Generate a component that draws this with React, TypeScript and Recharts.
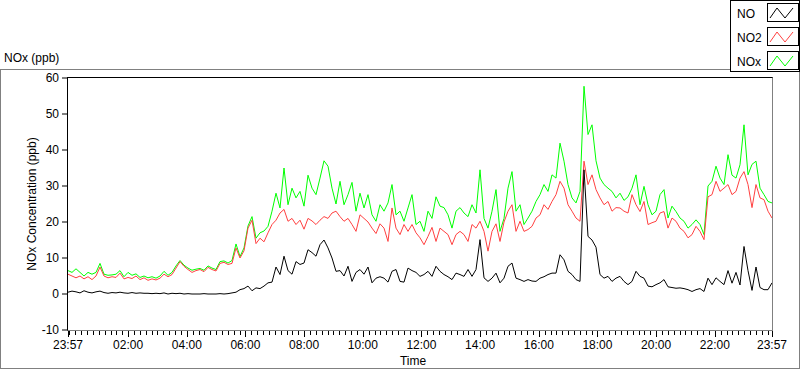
import { LineChart, Line, XAxis, YAxis } from 'recharts';

// one sample every 1440/176 minutes, starting 23:57
const STEP_MIN = 1440 / 176;

const NO = [
  0.5, 0.8, 0.6, 0.3, 0.9, 0.5, 0.3, 0.6, 0.8, 0.4,
  0.2, 0.4, 0.3, 0.5, 0.3, 0.2, 0.4, 0.2, 0.3, 0.2,
  0.2, 0.1, 0.2, 0.1, 0.3, 0, 0.2, 0.1, 0.2, 0,
  0.1, 0, 0, 0, 0.1, 0, 0, 0, 0.1, 0,
  0.1, 0.3, 0.5, 1.2, 1.5, 2.2, 0.9, 1.7, 1.5, 2.2,
  3.1, 3.3, 7.5, 5.4, 10.5, 6.5, 5.5, 9, 8.2, 8.6,
  12.3, 11.5, 10.5, 13.7, 15, 12.8, 10, 6.3, 6.5, 5,
  7.7, 3.5, 6, 6.8, 5.5, 7.5, 3.1, 4.4, 4.8, 4.4,
  3.3, 6.3, 6.8, 3.5, 3.3, 7.2, 6.5, 6, 4.9, 5.4,
  6.3, 4.9, 7.7, 6.3, 5.4, 4.8, 4, 5.8, 5.4, 4.9,
  6.8, 4.9, 6.8, 15.1, 4.5, 3.5, 4.4, 5.8, 3.1, 4.4,
  7.7, 8.6, 4.4, 4, 3.5, 4, 3.6, 3.5, 4.4, 4.8,
  5.4, 5.8, 5.8, 10.9, 9.5, 6.3, 5.4, 4, 3.5, 34.5,
  16, 15, 13, 5.4, 4.4, 4.9, 3.5, 4.4, 4.9, 3.5,
  2.6, 3.5, 6.3, 4.9, 4.4, 2.2, 2, 2.6, 3.1, 4,
  2, 1.8, 1.6, 1.7, 1.5, 1.2, 0.7, 1.2, 1.5, 0.7,
  4.4, 2.6, 4.5, 3.5, 2.6, 6.5, 3, 6, 2.5, 13.2,
  6.5, 1, 7.5, 1.8, 1.2, 1.2, 3.1,
];

const NO2 = [
  5.5, 5, 4.5, 5, 4.2, 4.8, 4, 5, 7.5, 5,
  4.5, 4.8, 4.6, 5.8, 4.2, 4.6, 4.3, 5, 4, 4.5,
  3.8, 4.2, 3.9, 4.4, 5.5, 4.8, 5.4, 7.2, 9, 7.7,
  6.8, 6, 6.5, 6.8, 6.2, 7.4, 6.8, 6.4, 8.5, 8.8,
  8.2, 8.5, 12.8, 10, 12, 18.3, 20.5, 14, 15.5, 14.5,
  17, 19.3, 20.5, 22.5, 23.5, 20.2, 21, 19.3, 20.5, 18,
  21, 20.3, 19.3, 20.5, 21.5, 21, 22.5, 23, 21.5, 20.2,
  21, 19.3, 17.4, 22, 21, 20, 18.3, 16.8, 19.5, 18.3,
  14.6, 23.9, 18.3, 16.5, 19.3, 17.4, 19.3, 17, 15.6, 13.7,
  16, 18.5, 14.6, 18.3, 17.4, 16.5, 13.7, 16.5, 17.4, 16.5,
  14.6, 19.3, 18.3, 20.2, 17.4, 11.9, 17.4, 19.5, 14.6, 20,
  23, 24.8, 17.4, 20.2, 17.4, 17.9, 18.8, 21.1, 22, 24.8,
  23.5, 25.7, 27.6, 31.3, 29.4, 24.8, 23, 21.1, 20.2, 36.9,
  30.4, 33.1, 29, 26.7, 24.8, 25.7, 23, 24, 23.9, 23,
  22.5, 27.6, 24.8, 22.9, 25.7, 19.3, 19.8, 20.2, 22.5, 22.9,
  18.3, 21.1, 20.2, 18.3, 17.4, 15.6, 16.5, 18.8, 17.4, 15.1,
  27, 27.6, 31.3, 28.5, 29.4, 30.4, 27.6, 28.5, 32.2, 34,
  30.4, 24, 30.4, 26.7, 26.2, 23, 21.1,
];

const NOX = [
  6.5, 6, 7, 6, 5, 6, 5.5, 6, 8.5, 5.5,
  5.2, 5.3, 5.5, 6.5, 4.8, 6, 5.2, 5.6, 4.6, 5,
  4.5, 4.8, 4.4, 5, 6.3, 5.2, 6, 7.8, 9.3, 8,
  7.2, 6.6, 6.9, 7.1, 6.6, 7.8, 7.2, 6.8, 9, 9.2,
  8.6, 9.3, 13.9, 10.4, 12.8, 18.9, 21.5, 15.5, 17, 17.5,
  18.8, 23, 28, 23.9, 35, 24.8, 29.4, 26.7, 28.5, 24.4,
  33, 29.4, 27.6, 32.2, 37, 35.5, 29.4, 25, 31.3, 24.8,
  27.6, 31, 23, 28, 23.9, 27.6, 22, 20.2, 24.8, 23,
  25.3, 30.4, 22, 23, 20.2, 23.9, 27.6, 19.3, 20.2, 17.4,
  23, 21, 27, 24.4, 24, 22, 18.3, 23, 24, 22.5,
  21.5, 24.8, 22.5, 34.5, 21, 18.3, 23, 29, 17.4, 21,
  29.4, 34, 23, 24.8, 19.3, 21.1, 23, 25.7, 27.6, 30.4,
  28.5, 33.1, 32.2, 41.9, 36.9, 30.4, 26.7, 25.3, 28.5, 57.7,
  44.3, 47, 37, 32.2, 30.4, 29.4, 28.5, 26.7, 28, 26,
  27, 29.4, 33.1, 24.8, 29.9, 24.8, 22, 23, 27.6, 29,
  21.1, 24.4, 22.9, 21.1, 20.2, 18.3, 19.3, 20.6, 19.3, 16.5,
  30, 31.3, 35.5, 32.2, 30.4, 38.7, 33, 32.2, 35.9, 47,
  33.1, 36, 36.9, 29.4, 27.6, 25.7, 25.3,
];

// labelled ticks, in minutes after 23:57
const TICK_MIN = [0, 123, 243, 363, 483, 603, 723, 843, 963, 1083, 1203, 1323, 1440];
const TICK_LABELS = ['23:57', '02:00', '04:00', '06:00', '08:00', '10:00', '12:00', '14:00', '16:00', '18:00', '20:00', '22:00', '23:57'];
const Y_TICKS = [-10, 0, 10, 20, 30, 40, 50, 60];

const SERIES = [
  { key: 'no', name: 'NO', color: '#000000' },
  { key: 'no2', name: 'NO2', color: '#ff4040' },
  { key: 'nox', name: 'NOx', color: '#00ff00' },
];

const data = NO.map((v, i) => ({ t: i * STEP_MIN, no: v, no2: NO2[i], nox: NOX[i] }));

// minor ticks every 12 min from 00:00, plus both 23:57 ends
const X_TICKS = [0, ...Array.from({ length: 120 }, (_, k) => 3 + 12 * k), 1440];

const FONT = '"Liberation Sans", Arial, sans-serif';

function TimeTick({ x, y, payload }: any) {
  const idx = TICK_MIN.indexOf(payload.value);
  const major = idx >= 0;
  const px = Math.round(x) + 0.5;
  return (
    <g>
      <line x1={px} x2={px} y1={y + 1} y2={y + (major ? 7 : 5)} stroke="#000" />
      {major && (
        <text x={x} y={y + 19} textAnchor="middle" fontSize={12} fill="#000" fontFamily={FONT}>
          {TICK_LABELS[idx]}
        </text>
      )}
    </g>
  );
}

// LabVIEW-style legend swatch: small zigzag in a boxed cell
function Swatch({ color }: { color: string }) {
  return (
    <svg width={32} height={19} style={{ display: 'block' }}>
      <rect x={0.5} y={0.5} width={31} height={18} fill="#fff" stroke="#000" />
      <polyline points="3,15 10,5 18,15 26,5" fill="none" stroke={color} strokeWidth={1} />
    </svg>
  );
}

export default function App() {
  return (
    <div style={{ position: 'absolute', left: 0, top: 0, width: 800, height: 369, background: '#fff', fontFamily: FONT, color: '#000' }}>
      {/* outer panel */}
      <div style={{ position: 'absolute', left: 0, top: 69, width: 800, height: 300, boxSizing: 'border-box', border: '1px solid #808080' }} />
      <div style={{ position: 'absolute', left: 4, top: 51, fontSize: 12, lineHeight: '14px' }}>NOx (ppb)</div>

      <div style={{ position: 'absolute', left: 0, top: 0 }}>
        <LineChart width={800} height={369} data={data} margin={{ top: 78, right: 28, bottom: 0, left: 0 }}>
          <XAxis
            dataKey="t"
            type="number"
            domain={[0, 1440]}
            ticks={X_TICKS}
            interval={0}
            height={39}
            axisLine={false}
            tickLine={false}
            tickSize={0}
            tickMargin={0}
            tick={(p: any) => <TimeTick {...p} />}
          />
          <YAxis
            type="number"
            domain={[-10, 60]}
            ticks={Y_TICKS}
            interval={0}
            width={68}
            axisLine={false}
            tickLine={{ stroke: '#000' }}
            tickSize={6}
            tickMargin={3}
            tick={{ fill: '#000', fontSize: 12, fontFamily: FONT }}
          />
          {[...SERIES].reverse().map((s) => (
            <Line
              key={s.key}
              type="linear"
              dataKey={s.key}
              name={s.name}
              stroke={s.color}
              strokeWidth={1}
              dot={false}
              activeDot={false}
              isAnimationActive={false}
            />
          ))}
        </LineChart>
      </div>

      {/* sunken plot frame */}
      <div style={{
        position: 'absolute', left: 67, top: 77, width: 706, height: 254, boxSizing: 'border-box',
        borderTop: '1px solid #000', borderLeft: '1px solid #000',
        borderRight: '1px solid #808080', borderBottom: '1px solid #808080', pointerEvents: 'none',
      }} />

      <div style={{
        position: 'absolute', left: 32, top: 204, transform: 'translate(-50%, -50%) rotate(-90deg)',
        whiteSpace: 'nowrap', fontSize: 12, lineHeight: '14px',
      }}>NOx Concentration (ppb)</div>
      <div style={{ position: 'absolute', left: 413, top: 354, transform: 'translateX(-50%)', fontSize: 12, lineHeight: '14px' }}>Time</div>

      {/* legend */}
      <div style={{ position: 'absolute', left: 730, top: 0, width: 70, height: 72, boxSizing: 'border-box', border: '1px solid #000', background: '#fff' }}>
        {SERIES.map((s, i) => (
          <div key={s.key}>
            <div style={{ position: 'absolute', left: 6, top: 6 + i * 24, fontSize: 12, lineHeight: '14px' }}>{s.name}</div>
            <div style={{ position: 'absolute', left: 36, top: 2 + i * 24 }}>
              <Swatch color={s.color} />
            </div>
          </div>
        ))}
      </div>
    </div>
  );
}
